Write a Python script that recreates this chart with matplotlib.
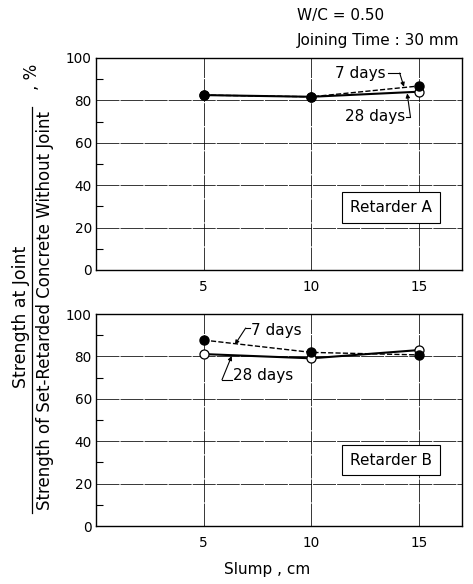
import matplotlib
matplotlib.use("Agg")
import matplotlib.pyplot as plt
from matplotlib.ticker import MultipleLocator

plt.rcParams['font.family'] = ['DejaVu Sans']

slump = [5, 10, 15]
a_7days = [82.5, 81.7, 86.8]
a_28days = [82.5, 81.7, 84.1]
b_7days = [87.7, 81.9, 80.7]
b_28days = [81.1, 79.1, 83.0]
yticks = [0, 20, 40, 60, 80, 100]
xticks = [5, 10, 15]

fig = plt.figure(figsize=(4.73, 5.84), dpi=100)
ax1 = fig.add_axes([0.203, 0.5377, 0.774, 0.363])
ax2 = fig.add_axes([0.203, 0.0993, 0.774, 0.363])

fs = 11
tfs = 9.8
for ax, s7, s28, name, boxy in [(ax1, a_7days, a_28days, 'Retarder A', 29.5),
                                (ax2, b_7days, b_28days, 'Retarder B', 31.0)]:
    ax.set_xlim(0, 17)
    ax.set_ylim(0, 100)
    ax.set_xticks(xticks)
    ax.set_yticks(yticks)
    ax.yaxis.set_minor_locator(MultipleLocator(10))
    ax.tick_params(axis='x', which='major', length=0, labelsize=tfs, pad=7)
    ax.tick_params(axis='y', which='major', length=0, labelsize=tfs, pad=3)
    ax.tick_params(axis='y', which='minor', direction='in', length=5, width=0.8, left=True, right=False)
    ax.grid(True, which='major', color='black', lw=0.55, ls=(0, (30, 1.5)))
    for sp in ax.spines.values():
        sp.set_linewidth(1.0)
    ax.plot(slump, s28, '-', color='black', lw=1.5, marker='o', ms=6.5,
            mfc='white', mec='black', mew=0.9, zorder=3)
    ax.plot(slump, s7, '--', color='black', lw=1.0, marker='o', ms=6.5,
            mfc='black', mec='black', zorder=4)
    ax.text(13.7, boxy, name, ha='center', va='center', fontsize=fs,
            bbox=dict(boxstyle='square,pad=0.5', fc='white', ec='black', lw=0.8), zorder=5)

arrow = dict(arrowstyle='-|>', color='black', lw=0.8, mutation_scale=6, shrinkA=0, shrinkB=0)

# annotations top
ax1.text(13.45, 92.9, '7 days', ha='right', va='center', fontsize=fs,
         bbox=dict(fc='white', ec='none', pad=0.5), zorder=6)
ax1.plot([13.55, 14.1], [92.9, 92.9], color='black', lw=0.8, zorder=6)
ax1.annotate('', xy=(14.3, 86.4), xytext=(14.1, 92.9), arrowprops=arrow, zorder=6)
ax1.text(14.35, 72.2, '28 days', ha='right', va='center', fontsize=fs,
         bbox=dict(fc='white', ec='none', pad=0.5), zorder=6)
ax1.plot([14.4, 14.6], [72.2, 72.2], color='black', lw=0.8, zorder=6)
ax1.annotate('', xy=(14.45, 83.3), xytext=(14.6, 72.2), arrowprops=arrow, zorder=6)

# annotations bottom
ax2.text(7.2, 92.0, '7 days', ha='left', va='center', fontsize=fs, zorder=6)
ax2.plot([7.15, 6.95], [93.4, 93.4], color='black', lw=0.8, zorder=6)
ax2.annotate('', xy=(6.45, 85.6), xytext=(6.95, 93.4), arrowprops=arrow, zorder=6)
ax2.text(6.35, 70.8, '28 days', ha='left', va='center', fontsize=fs, zorder=6)
ax2.plot([6.3, 5.85], [69.0, 69.0], color='black', lw=0.8, zorder=6)
ax2.annotate('', xy=(6.3, 80.2), xytext=(5.85, 69.0), arrowprops=arrow, zorder=6)

# header text
fig.text(0.628, 0.973, 'W/C = 0.50', ha='left', va='center', fontsize=fs)
fig.text(0.628, 0.931, 'Joining Time : 30 mm', ha='left', va='center', fontsize=fs)

# x label
fig.text(0.565, 0.024, 'Slump , cm', ha='center', va='center', fontsize=fs)

# y label as fraction
fig.text(0.045, 1 - 317 / 584, 'Strength at Joint', rotation=90, ha='center', va='center', fontsize=12.5)
fig.text(0.096, 1 - 311 / 584, 'Strength of Set-Retarded Concrete Without Joint', rotation=90,
         ha='center', va='center', fontsize=12)
fig.add_artist(plt.Line2D([0.068, 0.068], [1 - 513 / 584, 1 - 107 / 584], color='black', lw=0.9,
                          transform=fig.transFigure))
fig.text(0.068, 1 - 77 / 584, ', %', rotation=90, ha='center', va='center', fontsize=12)

fig.savefig('out.png', dpi=100)
